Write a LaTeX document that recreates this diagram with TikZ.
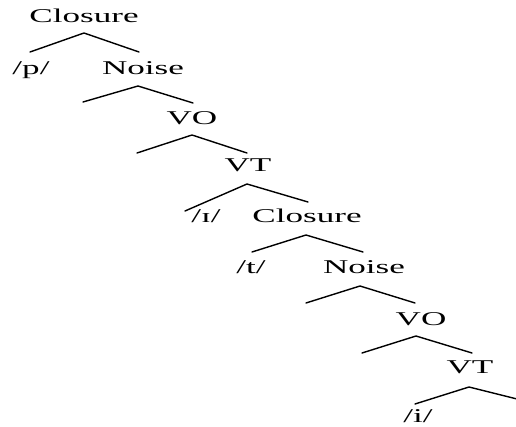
\documentclass[tikz,border=0pt]{standalone}
\usepackage{graphicx}
\usepackage{fontspec}
\setmainfont{Liberation Serif}
\newcommand\stw[1]{\scalebox{1.8}[1]{#1}}
\tikzset{
  lbl/.style={anchor=base, inner sep=0pt, font=\fontsize{19.5}{19.5}\selectfont},
  br/.style={line width=1.4pt, line cap=round, line join=round}
}
\begin{document}
\begin{tikzpicture}[x=1pt,y=-1pt]
\useasboundingbox (0,0) rectangle (516,427);
% labels
\node[lbl] (c1) at (84,23) {\stw{Closure}};
\node[lbl] (p) at (31,75) {\stw{/p/}};
\node[lbl] (n1) at (143,75) {\stw{Noise}};
\node[lbl] (vo1) at (192,125) {\stw{VO}};
\node[lbl] (vt1) at (248,172) {\stw{VT}};
\node[lbl] (ih) at (206,223) {\stw{/ɪ/}};
\node[lbl] (c2) at (307,223) {\stw{Closure}};
\node[lbl] (t) at (251,273) {\stw{/t/}};
\node[lbl] (n2) at (364,273) {\stw{Noise}};
\node[lbl] (vo2) at (421,325) {\stw{VO}};
\node[lbl] (vt2) at (470,373) {\stw{VT}};
\node[lbl] (i) at (418,422) {\stw{/i/}};
% branch points
\coordinate (a1) at (84,33);  \coordinate (l1) at (30,52);  \coordinate (r1) at (139,52);
\coordinate (a2) at (138,86); \coordinate (l2) at (83,102); \coordinate (r2) at (193,103);
\coordinate (a3) at (192,135); \coordinate (l3) at (137,153); \coordinate (r3) at (247,153);
\coordinate (a4) at (247,184); \coordinate (l4) at (185,211); \coordinate (r4) at (308,202);
\coordinate (a5) at (306,235); \coordinate (l5) at (252,252); \coordinate (r5) at (363,252);
\coordinate (a6) at (360,286); \coordinate (l6) at (306,303); \coordinate (r6) at (415,303);
\coordinate (a7) at (416,336); \coordinate (l7) at (362,353); \coordinate (r7) at (472,353);
\coordinate (a8) at (469,387); \coordinate (l8) at (415,404); \coordinate (r8) at (517,399);
\foreach \k in {1,...,8} { \draw[br] (l\k) -- (a\k) -- (r\k); }
\end{tikzpicture}
\end{document}
